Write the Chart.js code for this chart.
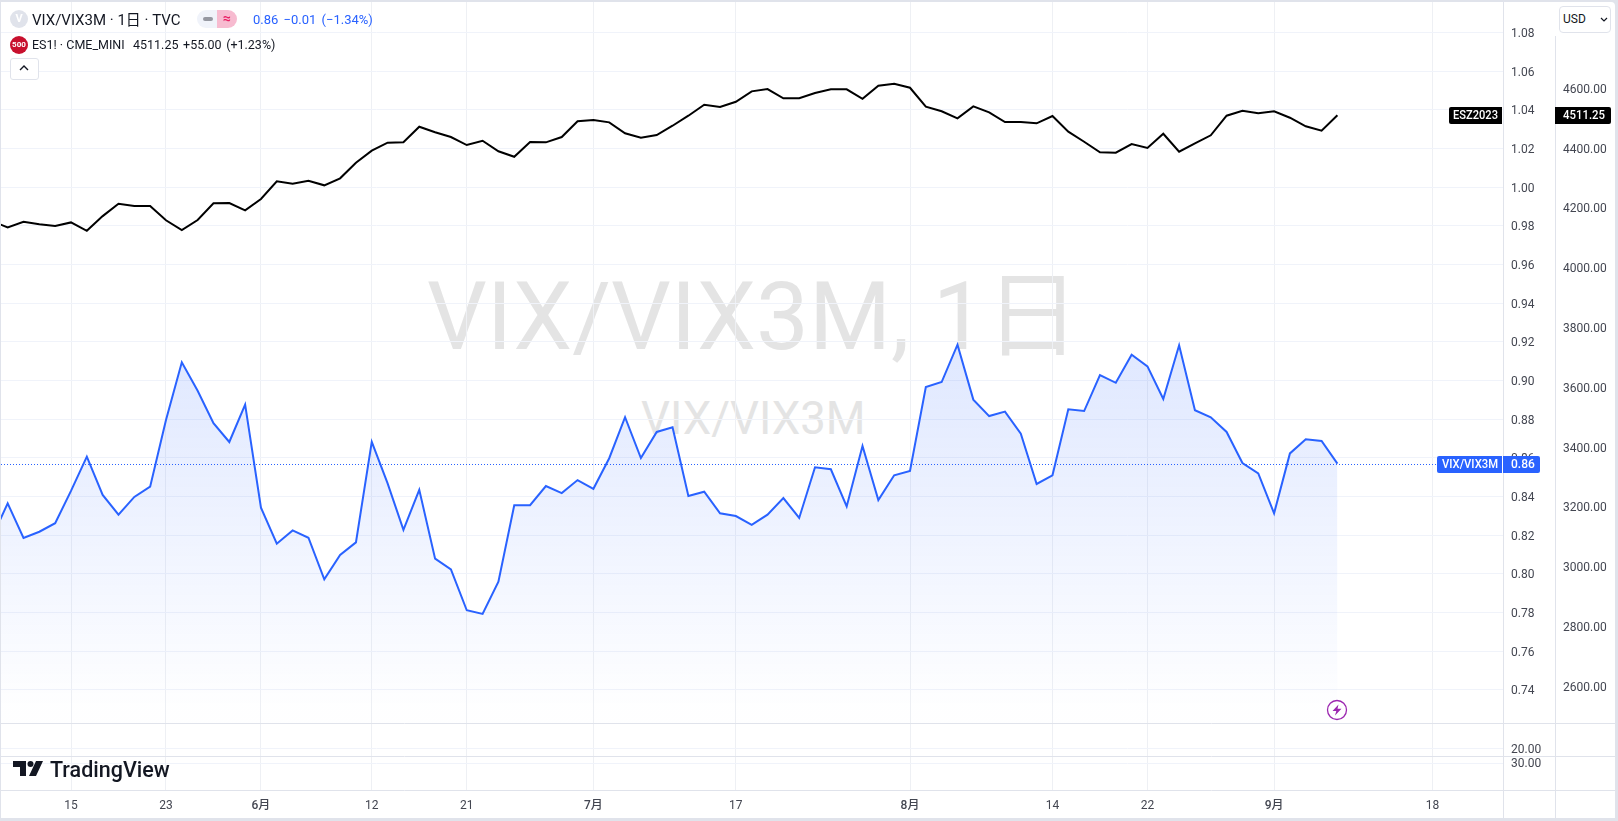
<!DOCTYPE html>
<html lang="ja">
<head>
<meta charset="utf-8">
<title>VIX/VIX3M</title>
<script src="https://cdn.jsdelivr.net/npm/chart.js@4"></script>
<style>
html,body{margin:0;padding:0;width:1618px;height:821px;overflow:hidden;background:#e0e3eb;font-family:Roboto,"Noto Sans CJK JP",sans-serif;color:#131722}
#panel{position:absolute;left:1px;top:2px;width:1614px;height:816px;background:#fff;border-radius:0 4px 0 0}
canvas{position:absolute;left:0;top:0}
.t{position:absolute;white-space:nowrap;line-height:18px}
.wm{color:#e4e4e4;line-height:1;font-weight:400}
.ic{position:absolute;border-radius:50%;text-align:center;color:#fff;font-weight:700}
svg{position:absolute;overflow:visible}
</style>
</head>
<body>
<div id="panel"></div>
<div class="t wm" style="left:427px;top:270px;font-size:94px">VIX/VIX3M, 1日</div>
<div class="t wm" style="left:641px;top:396px;font-size:45.5px">VIX/VIX3M</div>
<canvas id="c" width="1618" height="821"></canvas>

<div class="ic" style="left:10px;top:10px;width:18px;height:18px;background:#e0e3eb;font-size:11px;line-height:18px">V</div>
<div class="t" style="left:32px;top:11px;font-size:15px">VIX/VIX3M · 1日 · TVC</div>
<div style="position:absolute;left:197px;top:10px;width:20px;height:18px;background:#f0f3fa;border-radius:9px 0 0 9px"></div>
<div style="position:absolute;left:217px;top:10px;width:20px;height:18px;background:#f7bbd0;border-radius:0 9px 9px 0"></div>
<div style="position:absolute;left:203px;top:17px;width:10px;height:4px;background:#9598a1;border-radius:2px"></div>
<div class="t" style="left:217px;top:9px;width:20px;text-align:center;font-size:14px;font-weight:700;color:#e91e63">≈</div>
<div class="t" style="left:253px;top:11px;font-size:13px;color:#2962ff;word-spacing:2px">0.86 −0.01 (−1.34%)</div>

<div class="ic" style="left:10px;top:36px;width:18px;height:18px;background:#c8102e;font-size:8px;line-height:18px">500</div>
<div class="t" style="left:32px;top:36px;font-size:12.5px">ES1! · CME_MINI</div>
<div class="t" style="left:133px;top:36px;font-size:12.5px;word-spacing:1.5px">4511.25 +55.00 (+1.23%)</div>
<div style="position:absolute;left:10px;top:58px;width:27px;height:20px;border:1px solid #e0e3eb;border-radius:3px;background:#fff"></div>
<svg style="left:19px;top:65px" width="10" height="6"><path d="M1 5L5 1L9 5" fill="none" stroke="#131722" stroke-width="1.4"/></svg>

<div style="position:absolute;left:1559px;top:6px;width:50px;height:25px;border:1px solid #e0e3eb;border-radius:4px;background:#fff"></div>
<div class="t" style="left:1563px;top:10px;font-size:12px">USD</div>
<svg style="left:1600px;top:17px" width="8" height="5"><path d="M1 1L4 4L7 1" fill="none" stroke="#131722" stroke-width="1.2"/></svg>

<svg style="left:1327px;top:700px" width="20" height="20">
<circle cx="10" cy="10" r="9.5" fill="#fff" stroke="#9c27b0" stroke-width="1.3"/>
<path d="M11.5 4.5L5.5 11H9.3L8 15.5L14.5 8.8H10.5Z" fill="#9c27b0"/>
</svg>

<svg style="left:13px;top:761px" width="32" height="16">
<path d="M0 0H13V15H7V6H0Z M30 0L23 15H16L23 0Z" fill="#131722"/>
<circle cx="17.5" cy="3" r="3" fill="#131722"/>
</svg>
<div class="t" style="left:50px;top:759px;font-size:21.5px;font-weight:500;line-height:22px">TradingView</div>

<script>
const vixValues = [0.8187,0.8365,0.8186,0.8218,0.8262,0.8429,0.8606,0.8408,0.8306,0.8398,
  0.8451,0.8796,0.9094,0.8947,0.8779,0.8682,0.8875,0.8342,0.8156,0.8225,
  0.8187,0.7972,0.8098,0.8163,0.8683,0.8468,0.8228,0.8435,0.8079,0.8023,
  0.7812,0.7793,0.7960,0.8355,0.8355,0.8454,0.8418,0.8485,0.8440,0.8598,
  0.8810,0.8599,0.8734,0.8758,0.8403,0.8425,0.8313,0.8299,0.8254,0.8306,
  0.8392,0.8289,0.8551,0.8541,0.8349,0.8661,0.8382,0.8510,0.8532,0.8966,
  0.8992,0.9185,0.8901,0.8816,0.8839,0.8725,0.8465,0.8510,0.8851,0.8842,
  0.9028,0.8988,0.9133,0.9073,0.8904,0.9182,0.8846,0.8810,0.8734,0.8573,
  0.8520,0.8313,0.8623,0.8696,0.8687,0.8570];
const esValues = [4157,4136.5,4155,4146.5,4141,4153,4125,4174,4215.5,4207.75,
  4207.75,4160,4127.5,4161,4216.75,4217.75,4193.5,4231.25,4290.25,4282.25,
  4292.5,4277,4300.5,4352.5,4392.75,4419.5,4420.75,4473,4454.25,4438.5,
  4411.75,4426,4390.75,4372.5,4421.75,4420.75,4438.5,4491,4495.25,4487.5,
  4451,4436,4445.25,4476.25,4509.75,4546.5,4538.75,4556.5,4591.25,4599,
  4568,4568,4585.5,4598,4598,4566.5,4610,4616.75,4603.25,4539.75,
  4524.5,4501,4541,4521,4488.5,4488.5,4484.25,4508.75,4456.25,4422.75,
  4387.25,4386,4415,4401.75,4449.5,4389.25,4417.5,4444.25,4509.75,4526.5,
  4517.75,4524.5,4503,4474.25,4459.5,4511.25];
const timeTickIndex = [5,11,17,24,30,38,47,58,67,73,81,91];
const timeTickLabels = ['15','23','6月','12','21','7月','17','8月','14','22','9月','18'];
const ratioTicks = [0.74,0.76,0.78,0.80,0.82,0.84,0.86,0.88,0.90,0.92,0.94,0.96,0.98,1.00,1.02,1.04,1.06,1.08];
const esTicks = [2600,2800,3000,3200,3400,3600,3800,4000,4200,4400,4600];
const upperPaneTicks = [20];
const lowerPaneTicks = [30];

const BLUE = '#2962ff', GRID = '#f0f3fa', VGRID = '#eef0f4', LINE = '#e0e3eb', TICK = '#434651';
const FONT = 'Roboto, "Noto Sans CJK JP", sans-serif';
const toPoints = arr => arr.map((y, x) => ({x, y}));
const fixTicks = list => s => { s.ticks = list.map(value => ({value})); };
const fitBox = (prop, size, nudge) => s => {
  s[prop] = size;
  s.paddingTop = s.paddingBottom = s.paddingLeft = s.paddingRight = 0;
  if (nudge && !s._nudged) {
    s._nudged = true;
    const compute = s._computeLabelItems;
    s._computeLabelItems = function (area) {
      const items = compute.call(this, area);
      items.forEach(it => { it.options.translation[1] += nudge; });
      return items;
    };
  }
};

function roundTag(ctx, x, y, w, h, r, fill, text, tx, maxW) {
  ctx.fillStyle = fill;
  ctx.beginPath(); ctx.roundRect(x, y, w, h, r); ctx.fill();
  ctx.fillStyle = '#fff';
  ctx.textAlign = 'left'; ctx.textBaseline = 'middle';
  ctx.font = '500 12px ' + FONT;
  ctx.fillText(text, tx, y + h / 2 + 0.5, maxW);
}

const chrome = {
  id: 'chrome',
  afterDraw(chart) {
    const {ctx, chartArea: a, scales: s} = chart;
    ctx.save();
    ctx.strokeStyle = LINE; ctx.lineWidth = 1;
    const hline = (y, x0, x1) => { ctx.beginPath(); ctx.moveTo(x0, y + .5); ctx.lineTo(x1, y + .5); ctx.stroke(); };
    const vline = (x, y0, y1) => { ctx.beginPath(); ctx.moveTo(x + .5, y0); ctx.lineTo(x + .5, y1); ctx.stroke(); };
    hline(Math.round(s.y.bottom), 1, 1615);
    hline(Math.round(s.pa.bottom), 1, 1615);
    hline(Math.round(a.bottom), 1, 1615);
    vline(Math.round(a.right), 2, 818);
    vline(Math.round(a.right) + 52, 36, 818);

    const lastV = vixValues[vixValues.length - 1];
    const lastE = esValues[esValues.length - 1];
    const yv = Math.round(s.y.getPixelForValue(lastV));
    const ye = Math.round(s.y2.getPixelForValue(lastE));
    ctx.strokeStyle = BLUE; ctx.setLineDash([1, 2]);
    hline(yv, 1, 1437);
    ctx.setLineDash([]);
    roundTag(ctx, 1437, yv - 8, 65, 17, [2,0,0,2], BLUE, 'VIX/VIX3M', 1442, 56);
    roundTag(ctx, 1503, yv - 8, 37, 17, [0,2,2,0], BLUE, '0.86', 1511, 24);
    roundTag(ctx, 1449, ye - 8, 53, 17, [2,0,0,2], '#000', 'ESZ2023', 1453, 45);
    roundTag(ctx, 1555, ye - 8, 56, 17, [0,2,2,0], '#000', '4511.25', 1563, 42);
    ctx.restore();
  }
};

function fillGradient(c) {
  const {chartArea, scales} = c.chart;
  if (!chartArea) return 'rgba(41,98,255,.1)';
  const g = c.chart.ctx.createLinearGradient(0, scales.y.getPixelForValue(Math.max(...vixValues)), 0, scales.y.bottom - 15);
  g.addColorStop(0, 'rgba(41,98,255,.15)');
  g.addColorStop(1, 'rgba(41,98,255,.005)');
  return g;
}

new Chart(document.getElementById('c'), {
  type: 'line',
  data: { datasets: [
    {label:'ES1!', data: toPoints(esValues), yAxisID:'y2', borderColor:'#000', borderWidth:2, pointRadius:0, tension:0, fill:false, order:0},
    {label:'VIX/VIX3M', data: toPoints(vixValues), yAxisID:'y', borderColor:BLUE, borderWidth:2, pointRadius:0, tension:0, fill:'start', backgroundColor:fillGradient, order:1}
  ]},
  options: {
    responsive:false, animation:false, devicePixelRatio:1,
    layout:{padding:{left:1,top:2,right:3,bottom:3}},
    plugins:{legend:{display:false},tooltip:{enabled:false}},
    scales:{
      x:{type:'linear',min:0.578,max:95.46,position:'bottom',
        afterBuildTicks:fixTicks(timeTickIndex),
        afterFit:fitBox('height',28),
        border:{display:false},
        grid:{color:VGRID,drawTicks:false},
        ticks:{autoSkip:false,maxRotation:0,padding:9,color:TICK,
          font:c=>({family:FONT,size:12,weight:/月/.test(timeTickLabels[c.index]||'')?'500':'400'}),
          callback:(v,i)=>timeTickLabels[i]}},
      y:{type:'linear',position:'right',stack:'L',stackWeight:721,weight:1,min:0.7229,max:1.0957,
        afterBuildTicks:fixTicks(ratioTicks),
        afterFit:fitBox('width',52,1.5),
        border:{display:false},
        grid:{color:GRID,drawTicks:false},
        ticks:{autoSkip:false,padding:8,color:TICK,font:{family:FONT,size:12},callback:v=>v.toFixed(2)}},
      pa:{type:'linear',position:'right',stack:'L',stackWeight:33,weight:2,min:0,max:93,
        afterBuildTicks:fixTicks(upperPaneTicks),
        afterFit:fitBox('width',52,1),
        border:{display:false},
        grid:{color:GRID,drawTicks:false},
        ticks:{autoSkip:false,padding:8,color:TICK,font:{family:FONT,size:12},callback:v=>v.toFixed(2)}},
      pb:{type:'linear',position:'right',stack:'L',stackWeight:34,weight:3,min:0,max:37.8,
        afterBuildTicks:fixTicks(lowerPaneTicks),
        afterFit:fitBox('width',52,1),
        border:{display:false},
        grid:{color:GRID,drawTicks:false},
        ticks:{autoSkip:false,padding:8,color:TICK,font:{family:FONT,size:12},callback:v=>v.toFixed(2)}},
      y2:{type:'linear',position:'right',weight:10,min:2255,max:4890,
        afterBuildTicks:fixTicks(esTicks),
        afterFit:fitBox('width',60,1),
        border:{display:false},
        grid:{display:false,drawTicks:false},
        ticks:{autoSkip:false,padding:8,color:TICK,font:{family:FONT,size:12},callback:v=>v.toFixed(2)}}
    }
  },
  plugins:[chrome]
});
</script>
</body>
</html>
